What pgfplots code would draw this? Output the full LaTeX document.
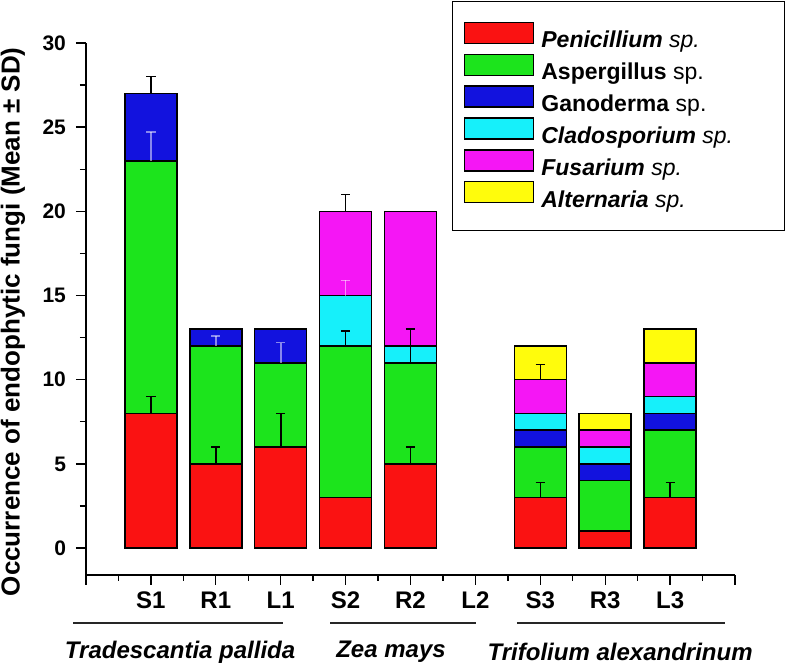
\documentclass[border=0pt]{standalone}
\usepackage{fontspec}
\setmainfont{Liberation Sans}
\usepackage{pgfplots}
\usepackage{pgfplotstable}
\pgfplotsset{compat=1.18}
\definecolor{cRed}{RGB}{250,18,18}
\definecolor{cGreen}{RGB}{28,228,28}
\definecolor{cBlue}{RGB}{18,18,222}
\definecolor{cCyan}{RGB}{22,240,250}
\definecolor{cMag}{RGB}{245,22,245}
\definecolor{cYel}{RGB}{255,252,12}
\pgfplotstableread{
x pen asp gan cla fus alt
1 8 15 4 0 0 0
2 5 7 1 0 0 0
3 6 5 2 0 0 0
4 3 9 0 3 5 0
5 5 6 0 1 8 0
7 3 3 1 1 2 2
8 1 3 1 1 1 1
9 3 4 1 1 2 2
}\data
\pgfplotsset{mybar/.style={fill=#1, draw=black, line width=0.75pt,
  legend image code/.code={\draw[fill=#1,draw=black,line width=0.6pt] (0pt,-1.25pt) rectangle (34.5pt,9.25pt);}}}
\begin{document}
\begin{tikzpicture}
\begin{axis}[
  scale only axis, width=324.5pt, height=266pt,
  xmin=0, xmax=10, ymin=-1.6, ymax=30,
  axis x line*=bottom, axis y line*=left,
  axis line style={line width=0.8pt},
  xtick={0,...,10}, xticklabels={,S1,R1,L1,S2,R2,L2,S3,R3,L3,},
  minor x tick num=1,
  ytick={0,5,...,30}, minor y tick num=1,
  tick align=outside,
  major tick length=5pt, minor tick length=3pt,
  every tick/.style={black, line width=0.7pt},
  /pgf/number format/assume math mode=true,
  xticklabel style={font=\bfseries\fontsize{12}{14}\selectfont},
  yticklabel style={font=\bfseries\fontsize{10.5}{12}\selectfont, xshift=-1.5pt},
  ylabel={Occurrence of endophytic fungi (Mean \textpm{} SD)},
  every axis y label/.style={at={(axis description cs:-0.1125,0.476)}, rotate=90, anchor=center,
     font=\bfseries\fontsize{13}{15}\selectfont},
  ybar stacked, bar width=0.8,
  clip=false,
  legend style={at={(rel axis cs:1.077,1.079)}, anchor=north east,
    draw=black, line width=0.6pt, fill=white,
    font=\fontsize{11.5}{13}\selectfont,
    nodes={inner sep=0pt},
    row sep=1.5pt, inner xsep=6pt, inner ysep=10pt,
    /tikz/every odd column/.append style={column sep=3.5pt}},
  legend cell align=left,
]
\addplot[mybar=cRed] table[x=x,y=pen]{\data};
\addlegendentry{\makebox[115.5pt][l]{\textbf{\textit{Penicillium}} \textit{sp.}}}
\addplot[mybar=cGreen] table[x=x,y=asp]{\data};
\addlegendentry{\makebox[115.5pt][l]{\textbf{Aspergillus} sp.}}
\addplot[mybar=cBlue] table[x=x,y=gan]{\data};
\addlegendentry{\makebox[115.5pt][l]{\textbf{Ganoderma} sp.}}
\addplot[mybar=cCyan] table[x=x,y=cla]{\data};
\addlegendentry{\makebox[115.5pt][l]{\textbf{\textit{Cladosporium}} \textit{sp.}}}
\addplot[mybar=cMag] table[x=x,y=fus]{\data};
\addlegendentry{\makebox[115.5pt][l]{\textbf{\textit{Fusarium}} \textit{sp.}}}
\addplot[mybar=cYel] table[x=x,y=alt]{\data};
\addlegendentry{\makebox[115.5pt][l]{\textbf{\textit{Alternaria}} \textit{sp.}}}
% group lines and labels
\draw[line width=0.7pt, black!85] (axis cs:-0.2,-4.45) -- (axis cs:3.035,-4.45);
\draw[line width=0.7pt, black!85] (axis cs:3.76,-4.45) -- (axis cs:6.01,-4.45);
\draw[line width=0.7pt, black!85] (axis cs:6.64,-4.45) -- (axis cs:9.85,-4.45);
\node[font=\bfseries\itshape\fontsize{12}{14}\selectfont] at (axis cs:1.45,-6.17) {Tradescantia pallida};
\node[font=\bfseries\itshape\fontsize{12}{14}\selectfont] at (axis cs:4.70,-6.17) {Zea mays};
\node[font=\bfseries\itshape\fontsize{12}{14}\selectfont] at (axis cs:8.23,-6.17) {Trifolium alexandrinum};
\end{axis}
\begin{axis}[
  scale only axis, width=324.5pt, height=266pt,
  xmin=0, xmax=10, ymin=-1.6, ymax=30,
  hide axis, clip=false,
]
% error bars partly hidden behind the upper segment (faint)
\addplot[draw=none, mark=none,
  error bars/.cd, y dir=plus, y explicit,
  error bar style={draw=white, draw opacity=0.5, line width=0.8pt},
  error mark options={rotate=90, mark size=2.3pt, line width=0.8pt, draw=white, draw opacity=0.5}]
  coordinates {(1,23) +- (0,1.7) (2,12) +- (0,0.6) (3,11) +- (0,1.2) (4,15) +- (0,0.9)};
% visible error bars
\addplot[draw=none, mark=none,
  error bars/.cd, y dir=plus, y explicit,
  error bar style={draw=black, line width=0.8pt},
  error mark options={rotate=90, mark size=2.3pt, line width=0.8pt, draw=black}]
  coordinates {(1,8) +- (0,1) (1,27) +- (0,1) (2,5) +- (0,1) (3,6) +- (0,2)
               (4,12) +- (0,0.9) (4,20) +- (0,1) (5,5) +- (0,1) (5,11) +- (0,2)
               (7,3) +- (0,0.9) (7,10) +- (0,0.9) (9,3) +- (0,0.9)};
\end{axis}
\pgfresetboundingbox
\path (-43pt,-44pt) rectangle (350.5pt,287.5pt);
\end{tikzpicture}
\end{document}
